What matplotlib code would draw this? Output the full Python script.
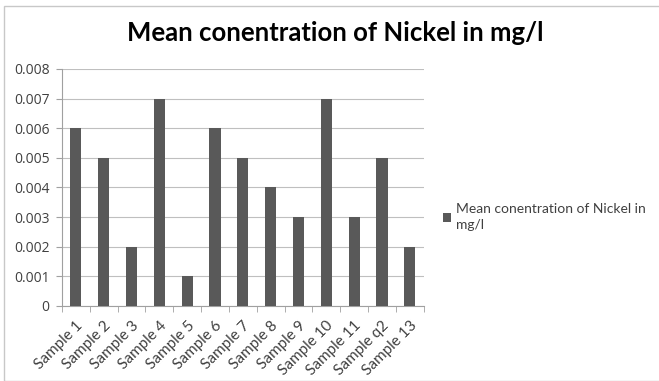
import numpy as np
import matplotlib.pyplot as plt
from matplotlib.patches import Rectangle

# sample labels and mean nickel concentration (mg/l)
samples = ["Sample 1", "Sample 2", "Sample 3", "Sample 4", "Sample 5", "Sample 6",
           "Sample 7", "Sample 8", "Sample 9", "Sample 10", "Sample 11", "Sample q2", "Sample 13"]
nickel = [0.006, 0.005, 0.002, 0.007, 0.001, 0.006, 0.005, 0.004, 0.003, 0.007, 0.003, 0.005, 0.002]
series_name = "Mean conentration of Nickel in mg/l"

plt.rcParams['font.family'] = ['Lato', 'DejaVu Sans']

fig = plt.figure(figsize=(6.59, 3.81), dpi=100)
ax = fig.add_axes([0.094, 0.197, 0.549, 0.622])

x = np.arange(len(samples))
bars = ax.bar(x, nickel, width=0.4, color='#595959', zorder=3, label=series_name)

ax.set_xlim(-0.5, len(samples) - 0.5)
ax.set_ylim(0, 0.008)
ax.set_yticks(np.arange(0, 0.0081, 0.001))
ax.set_yticklabels(['0'] + ['%.3f' % v for v in np.arange(0.001, 0.0081, 0.001)],
                   family='Open Sans', fontsize=10)
ax.yaxis.grid(True, color='#bfbfbf', linewidth=0.8, zorder=0)

ax.set_xticks(x)
ax.set_xticklabels(samples, rotation=45, ha='right', rotation_mode='anchor', fontsize=11)
ax.set_xticks(np.arange(-0.5, len(samples), 1), minor=True)
ax.tick_params(axis='x', which='major', length=0, pad=9)
ax.tick_params(axis='x', which='minor', length=4, color='#a0a0a0', direction='out')
ax.tick_params(axis='y', length=4, color='#a0a0a0', pad=5)
for lbl in ax.get_yticklabels() + ax.get_xticklabels():
    lbl.set_color('#404040')

for s in ['top', 'right']:
    ax.spines[s].set_visible(False)
ax.spines['left'].set_color('#a0a0a0')
ax.spines['bottom'].set_color('#a0a0a0')

fig.suptitle("Mean conentration of Nickel in mg/l", x=0.509, y=0.945,
             fontsize=18.5, fontweight='bold', color='black')

# legend next to the plot
fig.legend(handles=[bars], labels=["Mean conentration of Nickel in\nmg/l"],
           loc='center left', bbox_to_anchor=(0.672, 0.43), frameon=False,
           borderaxespad=0, borderpad=0,
           fontsize=10, handlelength=0.6, handleheight=0.6, handletextpad=0.35,
           labelspacing=0.3, labelcolor='#404040')
for t in fig.legends[0].get_texts():
    t.set_linespacing(1.35)

# thin outer frame around the chart
fig.patches.append(Rectangle((0.006, 0.0), 1.2, 0.984, transform=fig.transFigure,
                             fill=False, edgecolor='#c8c8c8', linewidth=1))

fig.savefig('out.png', dpi=100)
